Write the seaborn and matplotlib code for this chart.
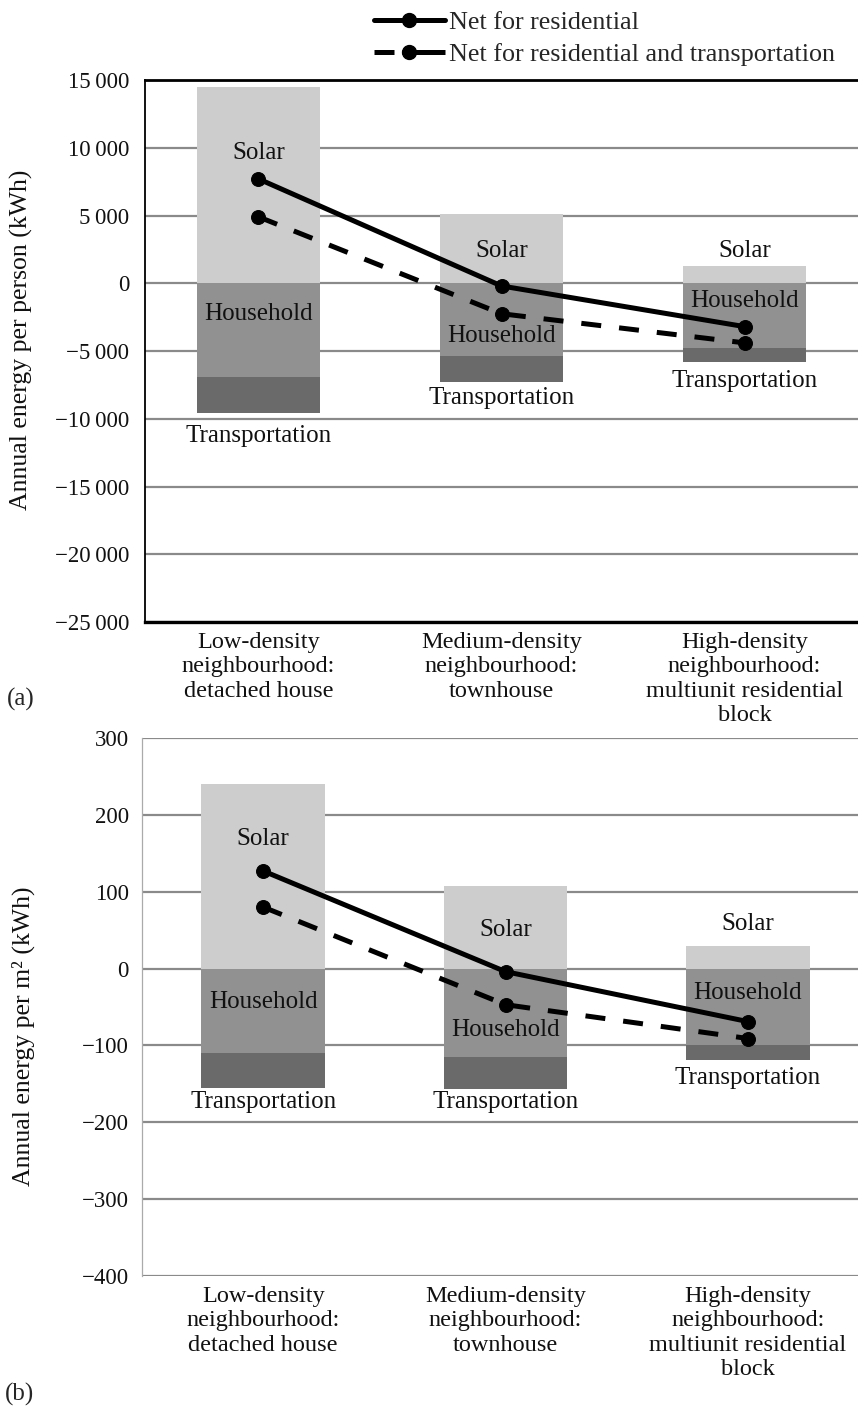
import numpy as np
import matplotlib
matplotlib.use("Agg")
import matplotlib.pyplot as plt
from matplotlib.lines import Line2D
import seaborn as sns

# ---------------- data ----------------
CATEGORIES = [
    "Low-density\nneighbourhood:\ndetached house",
    "Medium-density\nneighbourhood:\ntownhouse",
    "High-density\nneighbourhood:\nmultiunit residential\nblock",
]

# (a) per person, kWh
SOLAR_A = [14500, 5100, 1300]
HOUSEHOLD_A = [-6900, -5400, -4750]
TRANSPORT_A = [-2700, -1900, -1050]
NET_RES_A = [7700, -200, -3200]
NET_RES_TRANS_A = [4900, -2250, -4400]

# (b) per m2, kWh
SOLAR_B = [240, 108, 29]
HOUSEHOLD_B = [-110, -115, -99]
TRANSPORT_B = [-45, -42, -20]
NET_RES_B = [127, -4, -69]
NET_RES_TRANS_B = [80, -47, -91]

YTICKS_A = [15000, 10000, 5000, 0, -5000, -10000, -15000, -20000, -25000]
YTICKS_B = [300, 200, 100, 0, -100, -200, -300, -400]

# label anchor positions (data units) for in-bar texts
LABEL_Y_A = {"Solar": [9600, 2400, 2400],
             "Household": [-2300, -3900, -1300],
             "Transportation": [-11250, -8450, -7250]}
LABEL_Y_B = {"Solar": [168, 50, 58],
             "Household": [-43, -80, -32],
             "Transportation": [-173, -174, -142]}

LEGEND_LABELS = ["Net for residential", "Net for residential and transportation"]

# ---------------- style ----------------
sns.set_theme(style="white")
plt.rcParams["font.family"] = ["Liberation Serif", "DejaVu Serif"]
plt.rcParams["axes.unicode_minus"] = True

C_SOLAR = "#cdcdcd"
C_HOUSE = "#919191"
C_TRANS = "#6a6a6a"
C_GRID = "#8a8a8a"
LW = 3.6
MS = 10
DASH = (0, (4, 3.6))

fig = plt.figure(figsize=(8.58, 14.1), dpi=100)
W, H = 858.0, 1410.0


def fmt(v):
    s = f"{abs(v):,}".replace(",", "\u2009") if abs(v) >= 1000 else str(abs(v))
    return ("\u2212" + s) if v < 0 else s


def panel(rect, solar, house, trans, net1, net2, yticks, ylim, xlim,
          ylabel, label_y, ylabel_coords, ypad):
    ax = fig.add_axes(rect)
    total = [h + t for h, t in zip(house, trans)]
    common = dict(ax=ax, width=0.51, saturation=1, errorbar=None,
                  linewidth=0, zorder=2)
    sns.barplot(x=CATEGORIES, y=total, color=C_TRANS, **common)
    sns.barplot(x=CATEGORIES, y=house, color=C_HOUSE, **common)
    sns.barplot(x=CATEGORIES, y=solar, color=C_SOLAR, **common)

    sns.lineplot(x=CATEGORIES, y=net1, sort=False, color="black", lw=LW,
                 marker="o", ms=MS, mec="black", ax=ax, zorder=5)
    sns.lineplot(x=CATEGORIES, y=net2, sort=False, color="black", lw=LW,
                 linestyle=DASH, marker="o", ms=MS, mec="black", ax=ax, zorder=5)

    for name, ys in label_y.items():
        for i, yv in enumerate(ys):
            ax.text(i, yv, name, ha="center", va="center", fontsize=18,
                    color="#111111", zorder=6)

    ax.set_ylim(*ylim)
    ax.set_xlim(*xlim)
    ax.set_yticks(yticks, [fmt(v) for v in yticks])
    ax.yaxis.grid(True, color=C_GRID, lw=1.6)
    ax.xaxis.grid(False)
    ax.set_axisbelow(True)
    ax.tick_params(axis="y", length=0, pad=ypad, labelsize=16.5, colors="#111111")
    ax.tick_params(axis="x", length=0, pad=7, labelsize=17.5, colors="#111111")
    for lbl in ax.get_xticklabels():
        lbl.set_linespacing(1.22)
    ax.set_xlabel("")
    ax.set_ylabel(ylabel, fontsize=18.5, color="#111111")
    ax.yaxis.set_label_coords(*ylabel_coords)
    return ax


# ---- panel (a)
rect_a = [145 / W, 1 - 622 / H, (W - 145) / W, (622 - 80) / H]
ax_a = panel(rect_a, SOLAR_A, HOUSEHOLD_A, TRANSPORT_A, NET_RES_A, NET_RES_TRANS_A,
             YTICKS_A, (-25000, 15000), (-0.467, 2.467),
             "Annual energy per person (kWh)", LABEL_Y_A,
             (-0.157, (622 - 340) / 542), 11.5)
ax_a.spines["right"].set_visible(False)
ax_a.spines["top"].set_color("black")
ax_a.spines["top"].set_linewidth(2.0)
ax_a.spines["bottom"].set_color("black")
ax_a.spines["bottom"].set_linewidth(2.4)
ax_a.spines["left"].set_color("black")
ax_a.spines["left"].set_linewidth(1.3)

# ---- panel (b)
rect_b = [142 / W, 1 - 1276 / H, (W - 142) / W, (1276 - 738) / H]
ax_b = panel(rect_b, SOLAR_B, HOUSEHOLD_B, TRANSPORT_B, NET_RES_B, NET_RES_TRANS_B,
             YTICKS_B, (-400, 300), (-0.5, 2.454),
             "Annual energy per m\u00b2 (kWh)", LABEL_Y_B,
             (-0.149, (1276 - 1036) / 538), 9.4)
for s in ["right", "top", "bottom"]:
    ax_b.spines[s].set_visible(False)
ax_b.spines["left"].set_color("#aaaaaa")
ax_b.spines["left"].set_linewidth(0.9)

# ---- legend
handles = [
    Line2D([], [], color="black", lw=LW, marker="o", ms=MS),
    Line2D([], [], color="black", lw=LW, linestyle=(0, (4.0, 1.6, 12, 0.01)),
           marker="o", ms=MS),
]
fig.legend(handles, LEGEND_LABELS, loc="upper left",
           bbox_to_anchor=(374 / W, 1 - 11 / H), frameon=False, fontsize=18.8,
           handlelength=2.7, handletextpad=0.16, labelspacing=0.33,
           borderpad=0, borderaxespad=0)

fig.text(7 / W, 1 - 699 / H, "(a)", fontsize=18, ha="left", va="center")
fig.text(5 / W, 1 - 1394 / H, "(b)", fontsize=18, ha="left", va="center")

fig.savefig("out.png", dpi=100, facecolor="white")
